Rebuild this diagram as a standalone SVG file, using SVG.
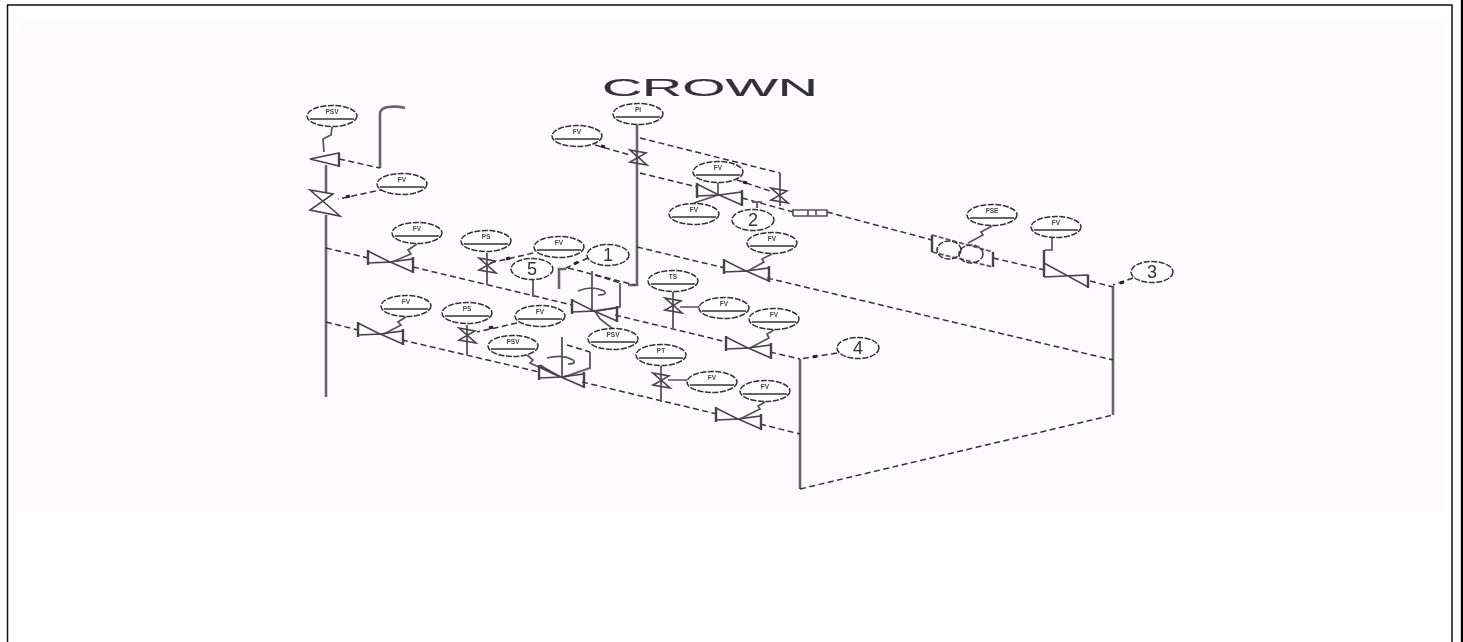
<svg xmlns="http://www.w3.org/2000/svg" width="1463" height="642" viewBox="0 0 1463 642">
<style>
.t{font-family:"Liberation Sans",Arial,sans-serif;fill:#333;text-anchor:middle}
.l{font-size:6.500px;font-weight:bold;fill:#444}
.n{font-size:18px;fill:#333}
.title{fill:#333;stroke:#333;stroke-width:.15}
.e{fill:#fff;stroke:#333;stroke-width:1.5;stroke-dasharray:6 1.500}
.b{stroke:#333;stroke-width:1.700;fill:none}
.p{stroke:#666;stroke-width:2.600;fill:none}
.d{stroke:#333;stroke-width:1.500;stroke-dasharray:6 3.500;fill:none}
.s{stroke:#555;stroke-width:1.700;fill:none}
.v{stroke:#444;stroke-width:1.600;fill:none}
.f{stroke:#444;stroke-width:2.400;fill:none}
.a{stroke:#222;stroke-width:3;fill:none}
</style>
<defs>
<filter id="soft" x="-5%" y="-5%" width="110%" height="110%"><feGaussianBlur stdDeviation="0.55"/></filter>
<ellipse id="i" class="e" cx="0" cy="0" rx="25" ry="10.5"/>
<ellipse id="c" class="e" cx="0" cy="0" rx="21" ry="10.5"/>
<path id="valve" class="v" d="M-22-11V1L0 0ZM0 0L23-3V10Z"/>
<path id="vflange" class="f" d="M-22-12V3M23-5V11"/>
<path id="x" class="v" d="M-8-7L8-4L-8 5L9 8Z"/>
<path id="X" class="v" d="M-15-13L8-9L-15 7L15 13Z"/>
</defs>
<rect width="1463" height="642" fill="#fff"/>
<rect x="18" y="22" width="1424" height="489" fill="#fdfbfe"/>
<path d="M7.500 642V5H1452V642" fill="none" stroke="#111" stroke-width="1.500"/>
<path d="M1462 0V642" stroke="#000" stroke-width="2.400" fill="none"/>
<g filter="url(#soft)">
<text class="t title" x="710" y="95.500" font-size="24" textLength="216" lengthAdjust="spacingAndGlyphs">CROWN</text>
<g id="connectors">
<path class="p" d="M326 165V193M326 215V397M380 168V113Q381 108 388 107Q398 106 405 108M637 124V285L628 285M800 359V489M1113 286V415M559 289V269H566"/>
<path class="d" d="M339 159L380 168M326 248L368 258M413 267L572 305M615 315L727 342M770 352L800 359M326 322L358 330M402 340L539 372M582 382L717 414M760 424L800 434M637 247L725 268M767 278L1113 360M640 173L697 187M742 198L793 212M827 212L932 240M993 258L1045 270M1090 281L1113 287M640 138L780 173M800 489L1113 415M568 268L635 285"/>
<path class="d" d="M385 189L338 199M533 253L490 263M517 323L477 332M595 145L630 155M737 180L773 192M1133 278L1113 285M837 353L800 359M588 258L566 268M567 345L590 352M595 275L620 283"/>
<path class="p" style="stroke-width:2" d="M780 173V206M592 271V311M620 283V307L596 311M562 337V377M590 352V368L564 377M487 253V285M467 325V355M673 292V330M661 366V402M533 278V297M757 202V208M752 202H762"/>
<path class="s" d="M332 127L331 135L323 139L324 152M417 244L408 250L411 254L392 262M406 317L398 322L401 325L384 334M613 329L600 319L594 310M527 355L533 360L530 363L558 376M774 330L767 334L769 338L750 348M765 402L758 406L760 409L740 419M772 254L762 259L764 262L748 271M694 203L706 199L718 195M718 183L718 195M992 226L981 232L983 235L968 243M1052 238V250H1045M680 307H700M687 380H668M540 365L560 377"/>
<path class="s" d="M578 291Q592 285 604 291Q608 295 598 295M547 358Q562 354 573 360Q577 364 568 364"/>
<path class="a" d="M402 191L398 192M510 258L506 259M493 327L489 328M605 147L601 146M747 183L743 182M1124 282L1120 283M817 356L813 357M578 262L574 264M350 196L346 197"/>
</g>
<g id="valve1"><use href="#valve" x="390" y="262"/><use href="#vflange" x="390" y="262"/></g>
<g id="valve2"><use href="#valve" x="380" y="334"/><use href="#vflange" x="380" y="334"/></g>
<g id="valve3"><use href="#valve" x="594" y="311"/><use href="#vflange" x="594" y="311"/></g>
<g id="valve4"><use href="#valve" x="561" y="377"/><use href="#vflange" x="561" y="377"/></g>
<g id="valve5"><use href="#valve" x="738" y="419"/><use href="#vflange" x="738" y="419"/></g>
<g id="valve6"><use href="#valve" x="748" y="348"/><use href="#vflange" x="748" y="348"/></g>
<g id="valve7"><use href="#valve" x="746" y="271"/><use href="#vflange" x="746" y="271"/></g>
<g id="valve8"><use href="#valve" x="719" y="195"/><use href="#vflange" x="719" y="195"/></g>
<g id="valve9"><path class="v" d="M1044 263L1088 287V275L1044 277"/><path class="f" d="M1044 250V277M1088 275V288"/></g>
<g id="xv1"><use href="#x" x="638" y="157"/></g>
<g id="xv2"><use href="#x" x="779" y="195"/></g>
<g id="xv3"><use href="#x" x="487" y="265"/></g>
<g id="xv4"><use href="#x" x="467" y="335"/></g>
<g id="xv5"><use href="#x" x="673" y="305"/></g>
<g id="xv6"><use href="#x" x="661" y="380"/></g>
<g id="xv7"><use href="#X" x="325" y="203"/></g>
<g id="xv8"><path class="v" d="M310 159L339 153V166Z"/><path class="f" d="M339 153V167"/></g>
<g id="flowbox"><path class="s" style="stroke-dasharray:5 2" d="M932 235L993 252M932 252L993 267"/><path class="f" d="M932 235V252M993 252V267"/><ellipse class="e" style="fill:none" cx="949" cy="250" rx="12" ry="9"/><ellipse class="e" style="fill:none" cx="971" cy="254" rx="12" ry="9"/></g>
<g id="element"><path class="s" d="M793 216V210H827V216H793"/><path class="s" d="M808 210V216M816 210V215"/></g>
<g id="n1"><use href="#i" x="332" y="116"/><text class="t l" x="332" y="114">PSV</text><path class="b" d="M310 119H354"/></g>
<g id="n2"><use href="#i" x="402" y="184"/><text class="t l" x="402" y="182">FV</text><path class="b" d="M380 187H424"/></g>
<g id="n3"><use href="#i" x="417" y="233"/><text class="t l" x="417" y="231">FV</text><path class="b" d="M395 236H439"/></g>
<g id="n4"><use href="#i" x="486" y="241"/><text class="t l" x="486" y="239">PS</text><path class="b" d="M464 244H508"/></g>
<g id="n5"><use href="#i" x="559" y="247"/><text class="t l" x="559" y="245">FV</text><path class="b" d="M537 250H581"/></g>
<g id="n6"><use href="#i" x="638" y="114"/><text class="t l" x="638" y="112">PI</text><path class="b" d="M616 117H660"/></g>
<g id="n7"><use href="#i" x="577" y="136"/><text class="t l" x="577" y="134">FV</text><path class="b" d="M555 139H599"/></g>
<g id="n8"><use href="#i" x="718" y="172"/><text class="t l" x="718" y="170">FV</text><path class="b" d="M696 175H740"/></g>
<g id="n9"><use href="#i" x="694" y="214"/><text class="t l" x="694" y="212">FV</text><path class="b" d="M672 217H716"/></g>
<g id="n10"><use href="#i" x="772" y="243"/><text class="t l" x="772" y="241">FV</text><path class="b" d="M750 246H794"/></g>
<g id="n11"><use href="#i" x="992" y="215"/><text class="t l" x="992" y="213">FSE</text><path class="b" d="M970 218H1014"/></g>
<g id="n12"><use href="#i" x="1056" y="227"/><text class="t l" x="1056" y="225">FV</text><path class="b" d="M1034 230H1078"/></g>
<g id="n13"><use href="#i" x="406" y="306"/><text class="t l" x="406" y="304">FV</text><path class="b" d="M384 309H428"/></g>
<g id="n14"><use href="#i" x="467" y="313"/><text class="t l" x="467" y="311">PS</text><path class="b" d="M445 316H489"/></g>
<g id="n15"><use href="#i" x="540" y="316"/><text class="t l" x="540" y="314">FV</text><path class="b" d="M518 319H562"/></g>
<g id="n16"><use href="#i" x="513" y="346"/><text class="t l" x="513" y="344">PSV</text><path class="b" d="M491 349H535"/></g>
<g id="n17"><use href="#i" x="613" y="339"/><text class="t l" x="613" y="337">PSV</text><path class="b" d="M591 342H635"/></g>
<g id="n18"><use href="#i" x="673" y="281"/><text class="t l" x="673" y="279">TS</text><path class="b" d="M651 284H695"/></g>
<g id="n19"><use href="#i" x="724" y="308"/><text class="t l" x="724" y="306">FV</text><path class="b" d="M702 311H746"/></g>
<g id="n20"><use href="#i" x="774" y="319"/><text class="t l" x="774" y="317">FV</text><path class="b" d="M752 322H796"/></g>
<g id="n21"><use href="#i" x="661" y="355"/><text class="t l" x="661" y="353">PT</text><path class="b" d="M639 358H683"/></g>
<g id="n22"><use href="#i" x="712" y="382"/><text class="t l" x="712" y="380">FV</text><path class="b" d="M690 385H734"/></g>
<g id="n23"><use href="#i" x="765" y="391"/><text class="t l" x="765" y="389">FV</text><path class="b" d="M743 394H787"/></g>
<g id="c1"><use href="#c" x="608" y="255"/><text class="t n" x="608" y="261">1</text></g>
<g id="c2"><use href="#c" x="753" y="220"/><text class="t n" x="753" y="226">2</text></g>
<g id="c3"><use href="#c" x="1152" y="272"/><text class="t n" x="1152" y="278">3</text></g>
<g id="c4"><use href="#c" x="858" y="348"/><text class="t n" x="858" y="354">4</text></g>
<g id="c5"><use href="#c" x="532" y="269"/><text class="t n" x="532" y="275">5</text></g>
</g>
</svg>
